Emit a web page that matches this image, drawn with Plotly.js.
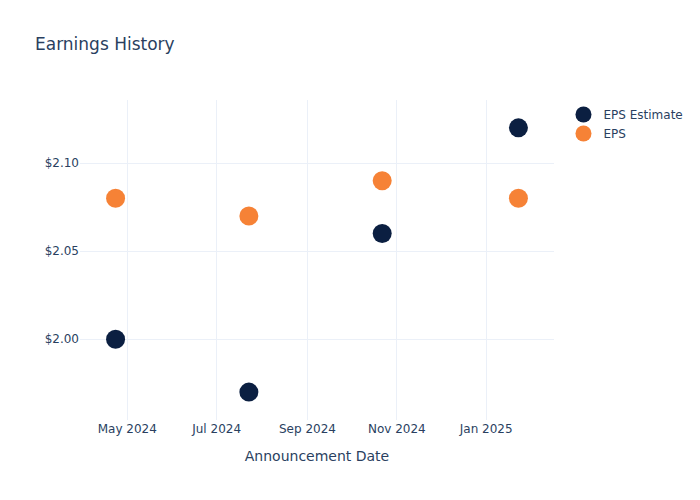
<!DOCTYPE html>
<html>
<head>
<meta charset="utf-8">
<script src="https://cdn.plot.ly/plotly-3.0.1.min.js"></script>
<style>html,body{margin:0;padding:0;background:#fff;}#chart{width:700px;height:500px;}</style>
</head>
<body>
<div id="chart"></div>
<script>
const dates = ["2024-04-23", "2024-07-23", "2024-10-22", "2025-01-23"];
const epsEstimate = [2.00, 1.97, 2.06, 2.12];
const epsActual = [2.08, 2.07, 2.09, 2.08];
const seriesNames = ["EPS Estimate", "EPS"];
const seriesColors = ["#0b1f41", "#f68236"];

const traces = [
  {x: dates, y: epsEstimate, name: seriesNames[0], type: "scatter", mode: "markers",
   marker: {color: seriesColors[0], size: 19}},
  {x: dates, y: epsActual, name: seriesNames[1], type: "scatter", mode: "markers",
   marker: {color: seriesColors[1], size: 19}}
];

const axisStyle = {gridcolor: "#EBF0F8", showline: false, zeroline: false,
  ticks: "", automargin: false};

const layout = {
  width: 700, height: 500,
  margin: {l: 80, r: 80, t: 100, b: 80},
  font: {family: "'DejaVu Sans', verdana, arial, sans-serif", color: "#2a3f5f", size: 12},
  paper_bgcolor: "#fff", plot_bgcolor: "#fff",
  title: {text: "Earnings History", font: {size: 17}, x: 0.05, xanchor: "left"},
  xaxis: Object.assign({}, axisStyle, {title: {text: "Announcement Date", standoff: 16}, type: "date", dtick: "M2", tickformat: "%b %Y"}),
  yaxis: Object.assign({}, axisStyle, {tickprefix: "$", tickformat: ".2f", dtick: 0.05}),
  legend: {font: {size: 12}},
  showlegend: true
};

Plotly.newPlot("chart", traces, layout, {displayModeBar: false});
</script>
</body>
</html>
